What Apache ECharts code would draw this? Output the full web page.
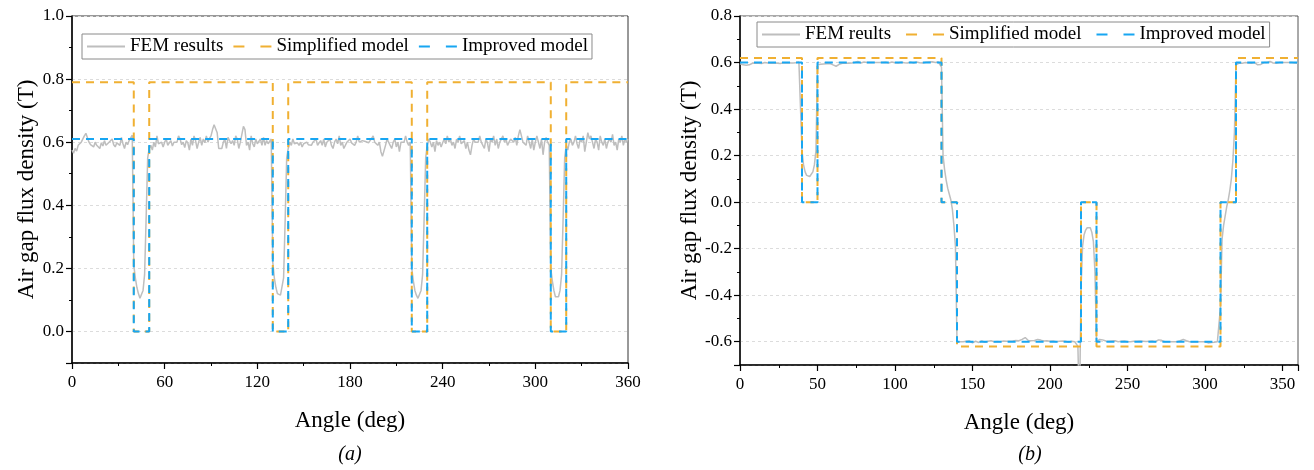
<!DOCTYPE html>
<html>
<head>
<meta charset="utf-8">
<script src="https://cdn.jsdelivr.net/npm/echarts@6/dist/echarts.min.js"></script>
<style>
  html, body { margin: 0; background: #fff; }
  #chart { width: 1314px; height: 470px; }
</style>
</head>
<body>
<div id="chart"></div>
<script>
// step breakpoints (deg) shared by both analytical models
const stepAngles = [0, 40, 50, 130, 140, 220, 230, 310, 320, 360];

// (a) models
const simplifiedA = [0.79, 0, 0.79, 0, 0.79, 0, 0.79, 0, 0.79, 0.79];
const improvedA = [0.61, 0, 0.61, 0, 0.61, 0, 0.61, 0, 0.61, 0.61];
// (a) FEM, one value per degree 0..360
const femA = [
  0.575, 0.565, 0.58, 0.572, 0.59, 0.585, 0.60, 0.595, 0.62, 0.628,
  0.625, 0.60, 0.592, 0.598, 0.585, 0.60, 0.59, 0.595, 0.58, 0.598,
  0.588, 0.605, 0.59, 0.585, 0.60, 0.595, 0.61, 0.592, 0.585, 0.598,
  0.60, 0.59, 0.615, 0.595, 0.58, 0.60, 0.592, 0.605, 0.61, 0.622,
  0.21, 0.17, 0.14, 0.12, 0.105, 0.11, 0.13, 0.18, 0.36, 0.55,
  0.58, 0.59, 0.575, 0.60, 0.585, 0.62, 0.595, 0.59, 0.60, 0.585,
  0.60, 0.61, 0.59, 0.598, 0.605, 0.588, 0.60, 0.595, 0.60, 0.62,
  0.61, 0.592, 0.60, 0.583, 0.605, 0.598, 0.575, 0.61, 0.59, 0.62,
  0.605, 0.58, 0.60, 0.615, 0.59, 0.61, 0.598, 0.62, 0.60, 0.612,
  0.62, 0.64, 0.655, 0.66, 0.63, 0.58, 0.575, 0.58, 0.60, 0.61,
  0.58, 0.615, 0.62, 0.595, 0.605, 0.59, 0.62, 0.61, 0.58, 0.60,
  0.60, 0.65, 0.64, 0.59, 0.60, 0.575, 0.62, 0.595, 0.585, 0.61,
  0.595, 0.60, 0.61, 0.59, 0.615, 0.59, 0.605, 0.595, 0.60, 0.61,
  0.22, 0.17, 0.14, 0.12, 0.115, 0.115, 0.12, 0.17, 0.35, 0.55,
  0.58, 0.60, 0.59, 0.61, 0.595, 0.59, 0.598, 0.59, 0.60, 0.585,
  0.595, 0.59, 0.60, 0.592, 0.598, 0.59, 0.60, 0.595, 0.61, 0.59,
  0.598, 0.605, 0.59, 0.61, 0.585, 0.60, 0.595, 0.61, 0.59, 0.58,
  0.60, 0.61, 0.595, 0.62, 0.59, 0.60, 0.58, 0.575, 0.60, 0.595,
  0.61, 0.598, 0.60, 0.59, 0.60, 0.62, 0.60, 0.598, 0.605, 0.60,
  0.602, 0.60, 0.598, 0.60, 0.612, 0.62, 0.60, 0.605, 0.59, 0.60,
  0.57, 0.555, 0.56, 0.59, 0.61, 0.60, 0.59, 0.58, 0.60, 0.61,
  0.585, 0.60, 0.57, 0.60, 0.605, 0.60, 0.62, 0.60, 0.59, 0.60,
  0.20, 0.16, 0.13, 0.115, 0.105, 0.11, 0.13, 0.18, 0.36, 0.55,
  0.59, 0.61, 0.60, 0.585, 0.60, 0.57, 0.605, 0.59, 0.60, 0.585,
  0.598, 0.61, 0.595, 0.62, 0.60, 0.61, 0.59, 0.60, 0.58, 0.61,
  0.60, 0.62, 0.595, 0.60, 0.605, 0.58, 0.60, 0.575, 0.56, 0.59,
  0.61, 0.60, 0.60, 0.60, 0.62, 0.60, 0.60, 0.58, 0.61, 0.598,
  0.57, 0.61, 0.60, 0.62, 0.59, 0.61, 0.58, 0.60, 0.595, 0.62,
  0.60, 0.61, 0.59, 0.60, 0.61, 0.61, 0.60, 0.615, 0.59, 0.62,
  0.64, 0.635, 0.60, 0.60, 0.59, 0.62, 0.60, 0.58, 0.61, 0.575,
  0.60, 0.62, 0.60, 0.58, 0.61, 0.56, 0.60, 0.615, 0.60, 0.59,
  0.20, 0.16, 0.13, 0.11, 0.105, 0.11, 0.13, 0.18, 0.36, 0.55,
  0.59, 0.575, 0.60, 0.61, 0.59, 0.60, 0.62, 0.595, 0.58, 0.61,
  0.60, 0.62, 0.57, 0.60, 0.63, 0.61, 0.62, 0.60, 0.58, 0.61,
  0.60, 0.575, 0.62, 0.60, 0.59, 0.61, 0.58, 0.60, 0.61, 0.60,
  0.625, 0.59, 0.60, 0.575, 0.61, 0.60, 0.62, 0.59, 0.61, 0.60,
  0.61
];

// (b) models
const simplifiedB = [0.62, 0, 0.62, 0, -0.62, 0, -0.62, 0, 0.62, 0.62];
const improvedB = [0.6, 0, 0.6, 0, -0.6, 0, -0.6, 0, 0.6, 0.6];
// (b) FEM, one value per degree 0..360
const femB = [
  0.595, 0.592, 0.59, 0.594, 0.588, 0.585, 0.59, 0.595, 0.597, 0.596,
  0.598, 0.595, 0.597, 0.599, 0.596, 0.598, 0.60, 0.597, 0.598, 0.596,
  0.597, 0.599, 0.598, 0.60, 0.597, 0.598, 0.596, 0.598, 0.599, 0.597,
  0.598, 0.596, 0.598, 0.60, 0.598, 0.597, 0.599, 0.60, 0.602, 0.605,
  0.22, 0.16, 0.13, 0.115, 0.11, 0.11, 0.115, 0.13, 0.16, 0.22,
  0.59, 0.595, 0.593, 0.596, 0.594, 0.597, 0.595, 0.598, 0.596, 0.594,
  0.59, 0.586, 0.584, 0.588, 0.592, 0.595, 0.597, 0.596, 0.598, 0.60,
  0.597, 0.599, 0.598, 0.602, 0.60, 0.598, 0.605, 0.60, 0.598, 0.60,
  0.602, 0.599, 0.60, 0.598, 0.60, 0.603, 0.60, 0.598, 0.60, 0.602,
  0.60, 0.598, 0.60, 0.599, 0.601, 0.60, 0.598, 0.60, 0.602, 0.60,
  0.599, 0.60, 0.598, 0.60, 0.601, 0.60, 0.599, 0.60, 0.598, 0.60,
  0.601, 0.60, 0.598, 0.60, 0.602, 0.60, 0.599, 0.60, 0.598, 0.60,
  0.601, 0.60, 0.602, 0.60, 0.603, 0.601, 0.60, 0.605, 0.602, 0.60,
  0.58, 0.20, 0.14, 0.095, 0.06, 0.035, 0.01, -0.03, -0.10, -0.19,
  -0.60, -0.598, -0.60, -0.597, -0.60, -0.602, -0.598, -0.60, -0.596, -0.60,
  -0.605, -0.60, -0.598, -0.60, -0.603, -0.60, -0.597, -0.60, -0.602, -0.60,
  -0.598, -0.60, -0.596, -0.598, -0.60, -0.597, -0.599, -0.596, -0.60, -0.598,
  -0.597, -0.60, -0.598, -0.595, -0.598, -0.60, -0.597, -0.598, -0.595, -0.597,
  -0.596, -0.598, -0.59, -0.585, -0.582, -0.59, -0.595, -0.597, -0.596, -0.598,
  -0.595, -0.597, -0.59, -0.587, -0.593, -0.598, -0.597, -0.598, -0.596, -0.599,
  -0.598, -0.60, -0.597, -0.598, -0.60, -0.596, -0.598, -0.60, -0.597, -0.60,
  -0.598, -0.60, -0.602, -0.60, -0.598, -0.60, -0.60, -0.60, -0.62, -0.90,
  -0.38, -0.19, -0.14, -0.12, -0.11, -0.105, -0.11, -0.13, -0.17, -0.30,
  -0.60, -0.595, -0.59, -0.585, -0.592, -0.595, -0.597, -0.596, -0.598, -0.595,
  -0.597, -0.598, -0.596, -0.598, -0.60, -0.597, -0.598, -0.60, -0.597, -0.599,
  -0.60, -0.598, -0.60, -0.599, -0.598, -0.60, -0.598, -0.60, -0.597, -0.60,
  -0.598, -0.60, -0.599, -0.60, -0.598, -0.60, -0.597, -0.598, -0.60, -0.595,
  -0.592, -0.59, -0.594, -0.598, -0.60, -0.598, -0.60, -0.599, -0.60, -0.598,
  -0.60, -0.598, -0.60, -0.599, -0.596, -0.594, -0.59, -0.592, -0.596, -0.60,
  -0.60, -0.598, -0.60, -0.602, -0.60, -0.598, -0.60, -0.602, -0.60, -0.603,
  -0.60, -0.602, -0.605, -0.60, -0.603, -0.60, -0.602, -0.604, -0.60, -0.603,
  -0.45, -0.16, -0.10, -0.06, -0.02, 0.01, 0.05, 0.10, 0.18, 0.30,
  0.59, 0.595, 0.598, 0.60, 0.597, 0.598, 0.60, 0.596, 0.598, 0.60,
  0.597, 0.598, 0.60, 0.595, 0.59, 0.588, 0.592, 0.597, 0.60, 0.598,
  0.60, 0.603, 0.605, 0.60, 0.598, 0.60, 0.597, 0.599, 0.60, 0.598,
  0.60, 0.598, 0.60, 0.599, 0.60, 0.598, 0.60, 0.597, 0.598, 0.596,
  0.597
];

const SERIF = '"Liberation Serif", "Times New Roman", serif';
const GRAY = '#BEBEBE';
const ORANGE = '#F0B032';
const BLUE = '#17A6F2';

function xAxisOf(gridIndex, interval) {
  return {
    type: 'value', gridIndex, min: 0, max: 360, interval,
    axisLine: { show: true, onZero: false, lineStyle: { color: '#000', width: 1.5 } },
    axisTick: { show: true, length: 6, lineStyle: { color: '#000', width: 1.2 } },
    minorTick: { show: true, splitNumber: 2, length: 3, lineStyle: { color: '#000', width: 1 } },
    axisLabel: { showMaxLabel: interval === 60, fontFamily: SERIF, fontSize: 17, color: '#000', margin: 11 },
    splitLine: { show: false },
    name: 'Angle (deg)', nameLocation: 'middle', nameGap: 46,
    nameTextStyle: { fontFamily: SERIF, fontSize: 23, color: '#000' }
  };
}

function yAxisOf(gridIndex, min, max, splitNumber, nameGap) {
  return {
    type: 'value', gridIndex, min, max, splitNumber, position: 'left',
    axisLine: { show: true, onZero: false, lineStyle: { color: '#000', width: 1.5 } },
    axisTick: { show: true, length: 6, lineStyle: { color: '#000', width: 1.2 } },
    minorTick: { show: true, splitNumber: 2, length: 3, lineStyle: { color: '#000', width: 1 } },
    axisLabel: {
      showMinLabel: false, formatter: v => v.toFixed(1),
      fontFamily: SERIF, fontSize: 17, color: '#000', margin: 8
    },
    splitLine: { show: true, lineStyle: { color: '#DCDCDC', width: 1, type: [3, 3] } },
    name: 'Air gap flux density (T)', nameLocation: 'middle', nameGap,
    nameTextStyle: { fontFamily: SERIF, fontSize: 23, color: '#000' }
  };
}

function legendOf(left, top, femName, gap) {
  const dashed = { type: [11, 16] };
  return {
    left, top, orient: 'horizontal',
    data: [
      { name: femName },
      { name: 'Simplified model', lineStyle: dashed },
      { name: 'Improved model', lineStyle: dashed }
    ],
    itemWidth: 38, itemHeight: 14, itemGap: gap, padding: [3, 4],
    borderColor: '#8A8A8A', borderWidth: 1,
    itemStyle: { opacity: 0 },
    textStyle: { fontFamily: SERIF, fontSize: 19, color: '#000' },
    selectedMode: false
  };
}

function femSeries(name, idx, values) {
  return {
    name, type: 'line', xAxisIndex: idx, yAxisIndex: idx,
    data: values.map((v, i) => [i, v]),
    symbol: 'none', showSymbol: false,
    lineStyle: { color: GRAY, width: 1.5 }, itemStyle: { color: GRAY }
  };
}

function stepSeries(name, idx, levels, color) {
  return {
    name, type: 'line', xAxisIndex: idx, yAxisIndex: idx, step: 'end',
    data: stepAngles.map((a, i) => [a, levels[i]]),
    symbol: 'none', showSymbol: false,
    lineStyle: { color, width: 2, type: [8, 6] }, itemStyle: { color }
  };
}

const chart = echarts.init(document.getElementById('chart'));
chart.setOption({
  animation: false,
  backgroundColor: '#fff',
  grid: [
    { left: 72, top: 16, width: 556, height: 347, show: true, borderColor: '#333', borderWidth: 1 },
    { left: 740, top: 16, width: 558, height: 349, show: true, borderColor: '#555', borderWidth: 1 }
  ],
  xAxis: [xAxisOf(0, 60), xAxisOf(1, 50)],
  yAxis: [yAxisOf(0, -0.1, 1.0, 5, 32), yAxisOf(1, -0.7, 0.8, 7, 36)],
  legend: [legendOf(82, 34, 'FEM results', 9), legendOf(757, 22, 'FEM reults', 14)],
  series: [
    femSeries('FEM results', 0, femA),
    stepSeries('Simplified model', 0, simplifiedA, ORANGE),
    stepSeries('Improved model', 0, improvedA, BLUE),
    femSeries('FEM reults', 1, femB),
    stepSeries('Simplified model', 1, simplifiedB, ORANGE),
    stepSeries('Improved model', 1, improvedB, BLUE)
  ],
  graphic: [
    { type: 'text', x: 350, y: 455, style: { text: '(a)', font: 'italic 20px ' + SERIF, fill: '#000', align: 'center', verticalAlign: 'middle' } },
    { type: 'text', x: 1030, y: 455, style: { text: '(b)', font: 'italic 20px ' + SERIF, fill: '#000', align: 'center', verticalAlign: 'middle' } }
  ]
});
</script>
</body>
</html>
